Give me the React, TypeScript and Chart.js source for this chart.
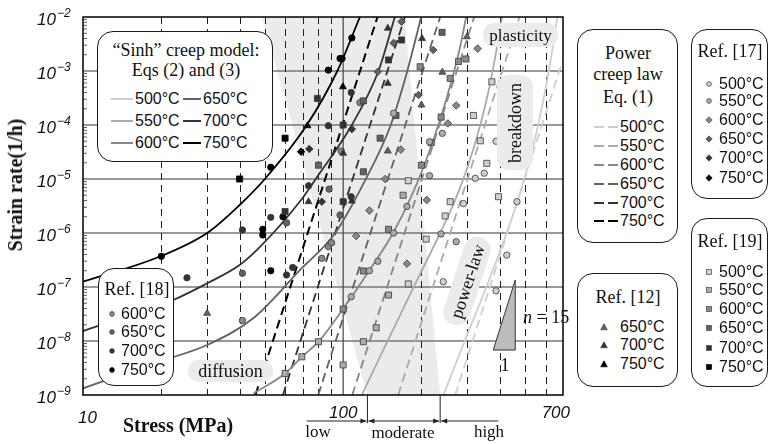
import React, { useEffect, useRef } from 'react';
import { Chart, registerables } from 'chart.js';

Chart.register(...registerables);

// ---------- categories / labels ----------
const temps = ['500°C', '550°C', '600°C', '650°C', '700°C', '750°C'];
const tempColors = ['#cfcfcf', '#ababab', '#888888', '#626262', '#333333', '#000000'];

const yTickValues = [1e-2, 1e-3, 1e-4, 1e-5, 1e-6, 1e-7, 1e-8, 1e-9];
const yTickExponents = ['−2', '−3', '−4', '−5', '−6', '−7', '−8', '−9'];
const xTickValues = [10, 100, 700];
const xTickLabels = ['10', '100', '700'];
const xGridDashed = [20, 30, 40, 50, 60, 70, 80, 90, 200, 300, 400, 500, 600];
const xGridSolid = [100];
const yGridValues = [1e-3, 1e-4, 1e-5, 1e-6, 1e-7, 1e-8];

// ---------- "Sinh" creep model curves (stress MPa, strain rate 1/h) ----------
const sinh500Stress = [243, 294, 351.6, 408.8, 465.6, 514.5, 562, 603.6, 637, 666];
const sinh500Rate = [1e-9, 1.04e-8, 8.8e-8, 6e-7, 3.6e-6, 1.8e-5, 1e-4, 5.5e-4, 2.45e-3, 1e-2];
const sinh550Stress = [118, 145, 181, 236, 269.6, 302.6, 336.6, 364.3, 387.3, 408.8];
const sinh550Rate = [1e-9, 8.07e-9, 7.4e-8, 1e-6, 4.09e-6, 1.82e-5, 1e-4, 4.84e-4, 2.25e-3, 1e-2];
const sinh600Stress = [45.2, 59.8, 69.4, 80.4, 99.8, 125, 155.6, 181, 206.5, 236, 262.5, 281.9, 297];
const sinh600Rate = [1.07e-9, 2.5e-9, 5.1e-9, 9.7e-9, 3.9e-8, 1.9e-7, 1e-6, 4.27e-6, 1.98e-5, 1.26e-4, 7.27e-4, 2.85e-3, 1e-2];
const sinh650Stress = [10, 20, 30, 45.1, 68.3, 93.1, 121.6, 151.8, 175.9, 199.5];
const sinh650Rate = [1.33e-9, 4.27e-9, 8.43e-9, 2.63e-8, 2.07e-7, 9.86e-7, 9.5e-6, 9.5e-5, 9.5e-4, 1e-2];
const sinh700Stress = [10, 22.2, 30, 40, 48, 68.9, 78, 108, 136.7, 158];
const sinh700Rate = [1.53e-8, 5.75e-8, 1.17e-7, 2.55e-7, 5.57e-7, 4.08e-6, 9.6e-6, 1e-4, 1e-3, 1e-2];
const sinh750Stress = [10, 20, 30, 40, 50, 72.5, 95, 116];
const sinh750Rate = [1.25e-7, 3.75e-7, 1e-6, 3.3e-6, 1e-5, 1e-4, 1e-3, 1e-2];

// ---------- Power creep law Eq. (1) lines ----------
const powerRate = [1e-9, 1e-2];
const power500Stress = [269.6, 789.7];
const power550Stress = [162.7, 476.6];
const power600Stress = [108.4, 319];
const power650Stress = [80.2, 236];
const power700Stress = [58.7, 172.7];
const power750Stress = [46, 135.5];

// ---------- experimental points [stress, rate] ----------
const ref17_500 = [[386.6, 5e-5], [348.6, 1.28e-5], [322, 1.03e-5], [290, 3.5e-6], [465.6, 3.8e-6], [425.6, 3.9e-7], [387, 8.5e-8], [242.6, 1.25e-7]];
const ref17_550 = [[214.8, 4.9e-5], [214.8, 1.15e-5], [240.6, 7e-5], [237.7, 9.6e-7], [272, 6.9e-7], [156.3, 1e-6], [135.9, 3e-7], [126.2, 2e-7], [107.4, 6.6e-8], [175.9, 3.1e-6], [156.3, 1.65e-4]];
const ref17_600 = [[166.7, 3.5e-5], [145, 1e-5], [112.2, 8.8e-7], [126.2, 2.6e-6], [175.9, 2.7e-7], [209.7, 4.1e-6], [252.6, 1.07e-4], [272, 2.3e-4], [328.8, 2.6e-3]];
const ref17_650 = [[195, 3.6e-4], [222, 2.45e-3], [135.9, 9.7e-4], [156.3, 3.3e-3], [167.7, 8.2e-3]];
const ref17_700 = [[74.1, 3.6e-5], [108, 8.4e-5], [82.8, 3.8e-6]];
const ref17_750 = [[68.9, 3.2e-5]];

const ref19_500 = [[373, 6.3e-4], [317, 1.5e-4], [336.6, 5.1e-5], [356.6, 1.95e-5], [395.6, 4.7e-6], [258, 3.8e-6], [246.6, 2.07e-6], [208.5, 7.7e-7], [178, 1.14e-7], [178, 9.3e-6]];
const ref19_550 = [[100, 3.6e-9], [59.8, 2.5e-9], [69.4, 5.1e-9], [80.4, 9.7e-9], [119.6, 9.7e-9], [134, 1.76e-8], [149.4, 7.1e-8], [170, 5e-6]];
const ref19_600 = [[100, 3.9e-8], [119.6, 1.98e-7], [149.4, 1.17e-6], [200, 1.8e-5], [238, 1.4e-4], [258, 7.3e-4], [277.6, 1.5e-3], [296.5, 1.67e-3], [197.7, 1.2e-3], [218, 4.7e-5]];
const ref19_650 = [[119.6, 1.36e-5], [138.7, 5.7e-5], [159.6, 1.5e-4], [119.6, 2.8e-4], [80.4, 1.8e-5], [240, 5.2e-3]];
const ref19_700 = [[100, 3.8e-6], [59.8, 2.5e-6], [149.4, 1.6e-3], [100, 1e-4], [79.6, 3.1e-4], [167.7, 3.75e-3]];
const ref19_750 = [[40, 1e-5], [59.8, 5.7e-5]];

const ref12_650 = [[30, 3.26e-8], [148.5, 3.3e-5], [299, 4.3e-3], [240.6, 9.5e-4], [200, 2.35e-4]];
const ref12_700 = [[100, 3e-5], [73.6, 3.8e-6], [108, 3.9e-6], [148.5, 6.2e-3], [148.5, 5.9e-4], [201, 4e-3]];
const ref12_750 = [[99.8, 5.1e-4], [72.9, 9.7e-5]];

const ref18_600 = [[41, 2.4e-8], [82.8, 3.4e-7], [87.7, 5.6e-7], [90.3, 6.6e-7], [98.3, 3.3e-5], [116, 2.6e-4]];
const ref18_650 = [[41, 1.8e-7], [60.6, 1.55e-6], [97.3, 2.15e-6], [88.3, 6.5e-6]];
const ref18_700 = [[25.1, 1.48e-7], [41, 1.14e-6], [52.7, 1.95e-6], [60.6, 1.67e-7], [64, 2.3e-7], [87.7, 9.7e-5], [107.4, 4e-4], [107.4, 4.7e-6], [73.6, 7.5e-6]];
const ref18_750 = [[20, 3.7e-7], [49.1, 1.17e-6], [49.1, 9.2e-7], [58.7, 2e-6], [52.7, 2e-7], [52.7, 1.65e-5], [87.7, 1.04e-3], [97.3, 1.7e-3], [99, 1.7e-3], [108, 4.1e-3]];

// ---------- shaded regime band, slope triangle, regime bounds ----------
const bandStress = [48.8, 172, 236, 124];
const bandRate = [1e-2, 1e-2, 1e-9, 1e-9];
const triStress = [377.6, 458.6, 458.6];
const triRate = [6.8e-9, 6.8e-9, 1.35e-7];
const regimeStress = [72.4, 124, 236, 395];

const serif = '"Liberation Serif", "Times New Roman", serif';
const sans = '"Liberation Sans", Arial, sans-serif';

const toPts = (xs: number[], ys: number[]) => xs.map((v, i) => ({ x: v, y: ys[i] }));
const pairPts = (arr: number[][]) => arr.map(p => ({ x: p[0], y: p[1] }));

const decor = {
  id: 'decor',
  beforeDatasetsDraw(chart: any) {
    const { ctx, chartArea: a, scales } = chart;
    const x = scales.x, y = scales.y;
    ctx.save();
    ctx.beginPath();
    ctx.rect(a.left, a.top, a.right - a.left, a.bottom - a.top);
    ctx.clip();
    ctx.fillStyle = '#ebebeb';
    ctx.beginPath();
    bandStress.forEach((s, i) => {
      const px = x.getPixelForValue(s), py = y.getPixelForValue(bandRate[i]);
      if (i) ctx.lineTo(px, py); else ctx.moveTo(px, py);
    });
    ctx.closePath();
    ctx.fill();
    ctx.strokeStyle = '#777';
    ctx.lineWidth = 1.5;
    yGridValues.forEach(v => {
      const py = y.getPixelForValue(v);
      ctx.beginPath(); ctx.moveTo(a.left, py); ctx.lineTo(a.right, py); ctx.stroke();
    });
    ctx.strokeStyle = '#222';
    ctx.lineWidth = 1;
    ctx.setLineDash([7, 5]);
    xGridDashed.forEach(v => {
      const px = Math.round(x.getPixelForValue(v)) + 0.5;
      ctx.beginPath(); ctx.moveTo(px, a.top); ctx.lineTo(px, a.bottom); ctx.stroke();
    });
    ctx.setLineDash([]);
    ctx.strokeStyle = '#444';
    ctx.lineWidth = 1.2;
    xGridSolid.forEach(v => {
      const px = x.getPixelForValue(v);
      ctx.beginPath(); ctx.moveTo(px, a.top); ctx.lineTo(px, a.bottom); ctx.stroke();
    });
    ctx.restore();
  },
  afterDatasetsDraw(chart: any) {
    const { ctx, chartArea: a, scales } = chart;
    const x = scales.x, y = scales.y;
    ctx.save();
    // slope triangle
    ctx.beginPath();
    triStress.forEach((s, i) => {
      const px = x.getPixelForValue(s), py = y.getPixelForValue(triRate[i]);
      if (i) ctx.lineTo(px, py); else ctx.moveTo(px, py);
    });
    ctx.closePath();
    ctx.fillStyle = '#bcbcbc';
    ctx.fill();
    ctx.strokeStyle = '#333';
    ctx.lineWidth = 1;
    ctx.stroke();
    // border
    ctx.strokeStyle = '#000';
    ctx.lineWidth = 1.5;
    ctx.strokeRect(a.left, a.top, a.right - a.left, a.bottom - a.top);
    // minor ticks on y axis
    ctx.lineWidth = 0.8;
    ctx.strokeStyle = '#333';
    for (let e = -9; e < -2; e++) {
      for (let k = 2; k <= 9; k++) {
        const py = y.getPixelForValue(k * Math.pow(10, e));
        ctx.beginPath(); ctx.moveTo(a.left, py); ctx.lineTo(a.left + 4, py); ctx.stroke();
      }
    }
    // y tick labels
    ctx.fillStyle = '#111';
    yTickValues.forEach((v, i) => {
      const py = y.getPixelForValue(v);
      ctx.font = `italic 17px ${sans}`;
      ctx.textAlign = 'right';
      ctx.textBaseline = 'alphabetic';
      ctx.fillText('10', a.left - 27, py + 8);
      ctx.font = `italic 12px ${sans}`;
      ctx.textAlign = 'left';
      ctx.fillText(yTickExponents[i], a.left - 26, py - 0.5);
    });
    // x tick labels
    ctx.font = `italic 17px ${sans}`;
    xTickValues.forEach((v, i) => {
      const px = x.getPixelForValue(v);
      const base = a.bottom + (i === 0 ? 28 : 23);
      if (i === 0) { ctx.textAlign = 'left'; ctx.fillText(xTickLabels[i], px - 5, base); }
      else if (i === xTickValues.length - 1) { ctx.textAlign = 'right'; ctx.fillText(xTickLabels[i], px + 7, base); }
      else { ctx.textAlign = 'center'; ctx.fillText(xTickLabels[i], px, base); }
    });
    // regime brackets
    const [r0, r1, r2, r3] = regimeStress.map(s => x.getPixelForValue(s));
    const ya = a.bottom + 26;
    ctx.strokeStyle = '#222';
    ctx.fillStyle = '#222';
    ctx.lineWidth = 1;
    [r1, r2].forEach(px => {
      ctx.beginPath(); ctx.moveTo(px, a.bottom); ctx.lineTo(px, a.bottom + 28); ctx.stroke();
    });
    const seg = (p: number, q: number) => { ctx.beginPath(); ctx.moveTo(p, ya); ctx.lineTo(q, ya); ctx.stroke(); };
    seg(r0, r1 - 1); seg(r1 + 1, r2 - 1); seg(r2 + 1, r3);
    const head = (tip: number, dir: number) => {
      ctx.beginPath(); ctx.moveTo(tip, ya); ctx.lineTo(tip - dir * 6, ya - 2.5); ctx.lineTo(tip - dir * 6, ya + 2.5); ctx.closePath(); ctx.fill();
    };
    head(r1 - 1, 1); head(r1 + 1, -1); head(r2 - 1, 1); head(r2 + 1, -1);
    ctx.restore();
  },
};

function lineDs(xs: number[], ys: number[], color: string, dashed: boolean, width: number) {
  return {
    data: toPts(xs, ys),
    showLine: true,
    borderColor: color,
    borderWidth: width,
    borderDash: dashed ? [9, 5] : [],
    pointRadius: 0,
    fill: false,
    cubicInterpolationMode: 'monotone',
  };
}

function markDs(arr: number[][], style: string, color: string, radius: number) {
  return {
    data: pairPts(arr),
    showLine: false,
    pointStyle: style,
    pointRadius: radius,
    backgroundColor: color,
    borderColor: color === '#000000' ? '#000' : '#3a3a3a',
    borderWidth: 0.8,
  };
}

function ChartCanvas() {
  const ref = useRef<HTMLCanvasElement>(null);
  useEffect(() => {
    if (!ref.current) return;
    const c = tempColors;
    const datasets: any[] = [
      markDs(ref17_500, 'circle', c[0], 3.2), markDs(ref17_550, 'circle', c[1], 3.2),
      markDs(ref17_600, 'rectRot', c[2], 3.8), markDs(ref17_650, 'rectRot', c[3], 3.8),
      markDs(ref17_700, 'rectRot', c[4], 3.8), markDs(ref17_750, 'rectRot', c[5], 3.8),
      markDs(ref19_500, 'rect', c[0], 4.3), markDs(ref19_550, 'rect', c[1], 4.3),
      markDs(ref19_600, 'rect', c[2], 4.3), markDs(ref19_650, 'rect', c[3], 4.3),
      markDs(ref19_700, 'rect', c[4], 4.3), markDs(ref19_750, 'rect', c[5], 4.3),
      markDs(ref12_650, 'triangle', c[3], 4), markDs(ref12_700, 'triangle', c[4], 4),
      markDs(ref12_750, 'triangle', c[5], 4),
      markDs(ref18_600, 'circle', c[2], 3.2), markDs(ref18_650, 'circle', c[3], 3.2),
      markDs(ref18_700, 'circle', c[4], 3.2), markDs(ref18_750, 'circle', c[5], 3.2),
      lineDs(sinh500Stress, sinh500Rate, c[0], false, 1.8),
      lineDs(sinh550Stress, sinh550Rate, c[1], false, 1.8),
      lineDs(sinh600Stress, sinh600Rate, c[2], false, 1.8),
      lineDs(sinh650Stress, sinh650Rate, c[3], false, 1.8),
      lineDs(sinh700Stress, sinh700Rate, c[4], false, 1.8),
      lineDs(sinh750Stress, sinh750Rate, c[5], false, 1.8),
      lineDs(power500Stress, powerRate, c[0], true, 1.8),
      lineDs(power550Stress, powerRate, c[1], true, 1.8),
      lineDs(power600Stress, powerRate, c[2], true, 1.8),
      lineDs(power650Stress, powerRate, c[3], true, 1.8),
      lineDs(power700Stress, powerRate, c[4], true, 1.8),
      lineDs(power750Stress, powerRate, c[5], true, 2),
    ];
    const chart = new Chart(ref.current, {
      type: 'scatter',
      data: { datasets },
      options: {
        animation: false,
        responsive: false,
        devicePixelRatio: 1,
        events: [],
        layout: { padding: { left: 83, top: 17, right: 206, bottom: 49 } },
        plugins: { legend: { display: false }, tooltip: { enabled: false } },
        scales: {
          x: { type: 'logarithmic', min: 10, max: 700, display: false },
          y: { type: 'logarithmic', min: 1e-9, max: 1e-2, display: false },
        },
      },
      plugins: [decor],
    } as any);
    return () => chart.destroy();
  }, []);
  return <canvas ref={ref} width={769} height={444} style={{ position: 'absolute', left: 0, top: 0 }} />;
}

const abs = (extra: any) => ({ position: 'absolute', whiteSpace: 'nowrap', lineHeight: 1, ...extra });

function CText({ x, y, children, style }: any) {
  return <div style={abs({ left: x, top: y, transform: 'translate(-50%,-50%)', ...style })}>{children}</div>;
}
function LText({ x, y, children, style }: any) {
  return <div style={abs({ left: x, top: y, transform: 'translate(0,-50%)', ...style })}>{children}</div>;
}

function Box({ left, top, width, height, children }: any) {
  return (
    <div style={{ position: 'absolute', left, top, width, height, border: '1px solid #1a1a1a', borderRadius: 16, background: '#fff', boxSizing: 'border-box' }}>
      {children}
    </div>
  );
}

function Mark({ x, y, shape, color }: any) {
  const stroke = color === '#000000' ? '#000' : '#444';
  let el: any;
  if (shape === 'circle') el = <circle cx={5} cy={5} r={2.4} fill={color} stroke={stroke} strokeWidth={0.7} />;
  else if (shape === 'square') el = <rect x={2.6} y={2.6} width={4.8} height={4.8} fill={color} stroke={stroke} strokeWidth={0.7} />;
  else if (shape === 'diamond') el = <polygon points="5,1.8 8.2,5 5,8.2 1.8,5" fill={color} stroke={stroke} strokeWidth={0.7} />;
  else el = <polygon points="5,1.8 8.3,7.8 1.7,7.8" fill={color} stroke={stroke} strokeWidth={0.7} />;
  return <svg width={10} height={10} style={{ position: 'absolute', left: x - 5, top: y - 5 }}>{el}</svg>;
}

function LineSample({ x1, x2, y, color, dashed }: any) {
  return (
    <svg width={x2 - x1} height={6} style={{ position: 'absolute', left: x1, top: y - 3 }}>
      <line x1={0} y1={3} x2={x2 - x1} y2={3} stroke={color} strokeWidth={2} strokeDasharray={dashed ? '10 4' : undefined} />
    </svg>
  );
}

const itemFont = { fontFamily: sans, fontSize: 16, color: '#111' };
const titleFont = { fontFamily: serif, fontSize: 18, color: '#111' };
const labelBox = { background: '#ebebeb', borderRadius: 11, position: 'absolute' as const };

export default function App() {
  const sinhRows = [67, 89, 111];
  const powerRows = [97, 116, 135, 154, 173, 191];
  const ref17Rows = [54, 71, 90, 109, 128, 148];
  const ref17Shapes = ['circle', 'circle', 'diamond', 'diamond', 'diamond', 'diamond'];
  const ref19Rows = [53, 71, 90, 109, 129, 148];
  const ref12Rows = [53, 71, 90];
  const ref18Rows = [45, 63, 82, 101];
  return (
    <div style={{ position: 'absolute', left: 0, top: 0, width: 769, height: 444, background: '#fff', overflow: 'hidden' }}>
      <ChartCanvas />

      {/* region labels */}
      <div style={{ ...labelBox, left: 483, top: 23, width: 75, height: 24 }}>
        <CText x={37.5} y={12} style={{ ...titleFont, fontSize: 17 }}>plasticity</CText>
      </div>
      <div style={{ ...labelBox, left: 497, top: 75, width: 36, height: 95, borderRadius: 12 }}>
        <CText x={18} y={47.5} style={{ ...titleFont, fontSize: 18, transform: 'translate(-50%,-50%) rotate(-90deg)' }}>breakdown</CText>
      </div>
      <div style={{ ...labelBox, left: 466.7, top: 280.8, width: 92, height: 27, borderRadius: 13, transform: 'translate(-50%,-50%) rotate(-72deg)' }}>
        <CText x={46} y={13.5} style={{ ...titleFont, fontSize: 18 }}>power-law</CText>
      </div>
      <div style={{ ...labelBox, left: 188, top: 360, width: 85, height: 22, borderRadius: 10 }}>
        <CText x={42.5} y={11} style={{ ...titleFont, fontSize: 18 }}>diffusion</CText>
      </div>
      <LText x={523} y={317} style={{ ...titleFont }}><i>n</i> = 15</LText>
      <CText x={505} y={365} style={{ ...titleFont }}>1</CText>

      {/* regime labels */}
      <CText x={318} y={431} style={{ ...titleFont, fontSize: 17 }}>low</CText>
      <CText x={403} y={432} style={{ ...titleFont, fontSize: 17 }}>moderate</CText>
      <CText x={489} y={431} style={{ ...titleFont, fontSize: 17 }}>high</CText>

      {/* axis titles */}
      <CText x={178} y={425} style={{ fontFamily: serif, fontWeight: 'bold', fontSize: 20, color: '#111' }}>Stress (MPa)</CText>
      <CText x={15} y={185} style={{ fontFamily: serif, fontWeight: 'bold', fontSize: 20, color: '#111', transform: 'translate(-50%,-50%) rotate(-90deg)' }}>Strain rate(1/h)</CText>

      {/* Sinh legend */}
      <Box left={97} top={31} width={176} height={131}>
        <CText x={88} y={18} style={titleFont}>“Sinh” creep model:</CText>
        <CText x={88} y={38} style={titleFont}>Eqs (2) and (3)</CText>
        {temps.map((t, i) => {
          const col = i < 3 ? 0 : 1;
          const row = sinhRows[i % 3];
          const lx1 = col === 0 ? 13 : 85, lx2 = col === 0 ? 35 : 103;
          return (
            <React.Fragment key={t}>
              <LineSample x1={lx1} x2={lx2} y={row} color={tempColors[i]} dashed={false} />
              <LText x={lx2 + 2} y={row} style={itemFont}>{t}</LText>
            </React.Fragment>
          );
        })}
      </Box>

      {/* Power creep law legend */}
      <Box left={577} top={29} width={101} height={214}>
        <CText x={50} y={23} style={titleFont}>Power</CText>
        <CText x={50} y={44} style={titleFont}>creep law</CText>
        <CText x={50} y={67} style={titleFont}>Eq. (1)</CText>
        {temps.map((t, i) => (
          <React.Fragment key={t}>
            <LineSample x1={16} x2={40} y={powerRows[i]} color={tempColors[i]} dashed={true} />
            <LText x={42} y={powerRows[i]} style={itemFont}>{t}</LText>
          </React.Fragment>
        ))}
      </Box>

      {/* Ref 17 */}
      <Box left={691} top={29} width={77} height={170}>
        <CText x={38} y={21} style={titleFont}>Ref. [17]</CText>
        {temps.map((t, i) => (
          <React.Fragment key={t}>
            <Mark x={17} y={ref17Rows[i]} shape={ref17Shapes[i]} color={tempColors[i]} />
            <LText x={27} y={ref17Rows[i]} style={itemFont}>{t}</LText>
          </React.Fragment>
        ))}
      </Box>

      {/* Ref 19 */}
      <Box left={691} top={218} width={77} height={169}>
        <CText x={38} y={22} style={titleFont}>Ref. [19]</CText>
        {temps.map((t, i) => (
          <React.Fragment key={t}>
            <Mark x={17} y={ref19Rows[i]} shape="square" color={tempColors[i]} />
            <LText x={27} y={ref19Rows[i]} style={itemFont}>{t}</LText>
          </React.Fragment>
        ))}
      </Box>

      {/* Ref 12 */}
      <Box left={577} top={273} width={101} height={114}>
        <CText x={50} y={23} style={titleFont}>Ref. [12]</CText>
        {temps.slice(3).map((t, i) => (
          <React.Fragment key={t}>
            <Mark x={26} y={ref12Rows[i]} shape="triangle" color={tempColors[i + 3]} />
            <LText x={42} y={ref12Rows[i]} style={itemFont}>{t}</LText>
          </React.Fragment>
        ))}
      </Box>

      {/* Ref 18 */}
      <Box left={98} top={268} width={76} height={118}>
        <CText x={38} y={20} style={titleFont}>Ref. [18]</CText>
        {temps.slice(2).map((t, i) => (
          <React.Fragment key={t}>
            <Mark x={13} y={ref18Rows[i]} shape="circle" color={tempColors[i + 2]} />
            <LText x={22} y={ref18Rows[i]} style={itemFont}>{t}</LText>
          </React.Fragment>
        ))}
      </Box>
    </div>
  );
}
